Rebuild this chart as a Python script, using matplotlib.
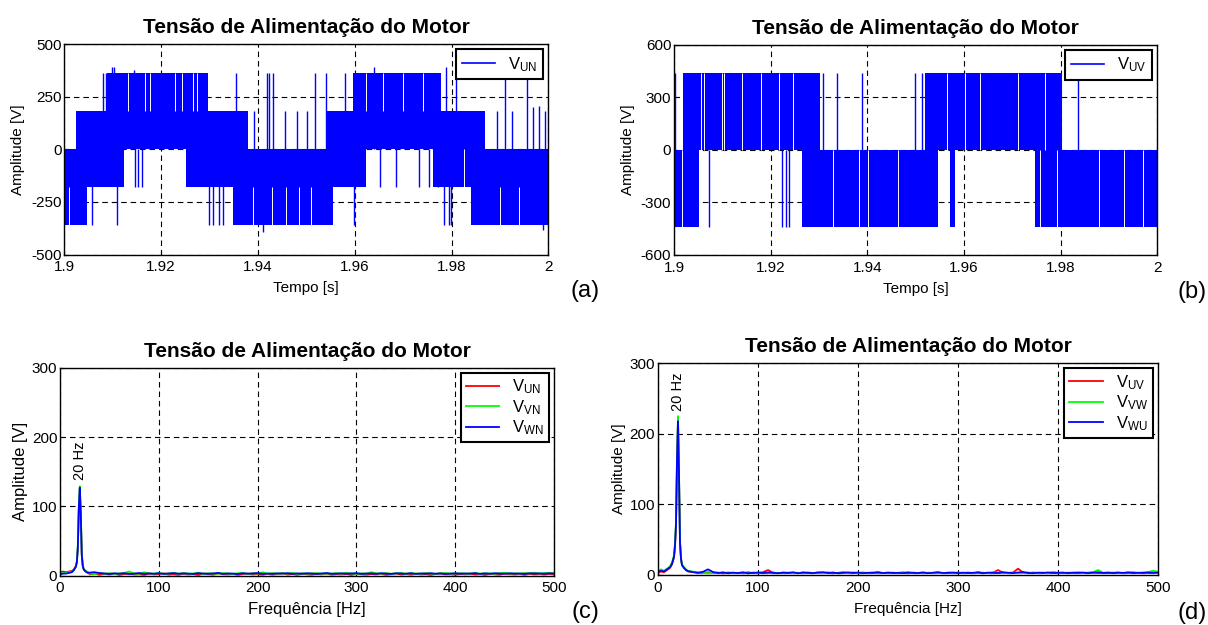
import numpy as np
import matplotlib
matplotlib.use('Agg')
import matplotlib.pyplot as plt
from matplotlib.lines import Line2D

plt.rcParams['font.family'] = ['Liberation Sans', 'DejaVu Sans']
plt.rcParams['mathtext.default'] = 'regular'
plt.rcParams['axes.unicode_minus'] = False

# ---------------- (a) V_UN : PWM bands (start, end, low, high) ----------------
a_t0 = [1.9000, 1.9024, 1.9048, 1.9089, 1.9124, 1.9251, 1.9296, 1.9348, 1.9379,
        1.9540, 1.9555, 1.9597, 1.9623, 1.9761, 1.9778, 1.9840, 1.9870]
a_t1 = [1.9024, 1.9048, 1.9089, 1.9124, 1.9251, 1.9296, 1.9348, 1.9379, 1.9540,
        1.9555, 1.9597, 1.9623, 1.9761, 1.9778, 1.9840, 1.9870, 2.0000]
a_lo = [-360, -360, -180, -180, 0, -180, -180, -360, -360,
        -360, -180, -180, 0, -180, -180, -360, -360]
a_hi = [0, 180, 180, 360, 360, 360, 180, 180, 0,
        180, 180, 360, 360, 360, 180, 180, 0]
# isolated pulses (time, peak value)
a_sp_t = [1.90806, 1.90861, 1.90980, 1.91030, 1.91432, 1.93554, 1.93926, 1.94187,
          1.94236, 1.94319, 1.94560, 1.94801, 1.95007, 1.95186, 1.95407, 1.95799,
          1.96391, 1.97893, 1.98093, 1.98937, 1.99095, 1.99254, 1.99556, 1.99690,
          1.99810, 1.99929,
          1.90565, 1.91088, 1.91460, 1.91529, 1.91605, 1.92982, 1.93078, 1.93202,
          1.93271, 1.94111, 1.95992, 1.96522, 1.96853, 1.97321, 1.97542, 1.97714,
          1.97852, 1.97941, 1.97989, 1.99889]
a_sp_v = [360, 360, 392, 392, 376, 360, 180, 360,
          360, 360, 180, 180, 180, 360, 360, 360,
          392, 390, 360, 180, 360, 180, 360, 200,
          205, 180,
          -360, -360, -180, -180, -180, -360, -360, -360,
          -360, -395, -360, -180, -180, -180, -180, -180,
          -360, -360, -360, -385]
# thin white gaps seen inside the dense switching (time, from, to)
a_gap_t = [1.90103, 1.91309, 1.91674, 1.91777, 1.92287, 1.92431, 1.92665, 1.92741,
           1.93900, 1.94300, 1.94580, 1.94856, 1.95097, 1.96233, 1.96577, 1.96991,
           1.97404, 1.98265, 1.99000, 1.99400]
a_gap_v0 = [-360, 180, 180, 180, 180, 180, 180, 180,
            -360, -360, -360, -360, -360, 180, 180, 180,
            180, -180, -360, -360]
a_gap_v1 = [-180, 360, 360, 360, 360, 360, 360, 360,
            -180, -180, -180, -180, -180, 360, 360, 360,
            360, 0, -180, -180]

# ---------------- (b) V_UV ----------------
b_t0 = [1.9000, 1.9018, 1.9052, 1.9264, 1.9302, 1.9519, 1.9547, 1.9571, 1.9581, 1.9747, 1.9802]
b_t1 = [1.9018, 1.9052, 1.9264, 1.9302, 1.9519, 1.9547, 1.9571, 1.9581, 1.9747, 1.9802, 2.0000]
b_lo = [-440, -440, 0, -440, -440, -440, 0, -440, 0, -440, -440]
b_hi = [0, 440, 440, 440, 0, 440, 440, 440, 440, 440, 0]
b_sp_t = [1.90020, 1.93090, 1.93366, 1.93883, 1.94986, 1.95124, 1.98352,
          1.90724, 1.92228, 1.92317, 1.92386]
b_sp_v = [440, 440, 440, 440, 440, 440, 440,
          -440, -440, -440, -440]
b_gap_t = [1.90552, 1.90628, 1.90986, 1.91041, 1.91400, 1.91800, 1.92172, 1.92455,
           1.95641, 1.96021, 1.96331, 1.97124, 1.97676,
           1.90159, 1.93297, 1.93834, 1.94021, 1.94641, 1.97572, 1.97931,
           1.98800, 1.99300, 1.99700]
b_gap_v0 = [0] * 13 + [-440] * 10
b_gap_v1 = [440] * 13 + [0] * 10

# ---------------- spectra ----------------
f_peak = [0, 3, 6, 9, 12, 14, 16, 17, 18, 19, 20, 21, 22, 23, 24, 26, 28]

c_un_peak = [5, 6, 5, 6, 7, 9, 14, 20, 40, 95, 125, 85, 30, 14, 9, 6, 5]
c_vn_peak = [3, 4, 4, 5, 6, 8, 13, 20, 42, 100, 129, 90, 32, 15, 9, 7, 5]
c_wn_peak = [2, 3, 3, 4, 5, 8, 13, 19, 40, 97, 127, 88, 30, 14, 9, 6, 4]

c_un_floor = [2.1, 3.0, 1.4, 2.6, 1.8, 2.9, 1.2, 2.4, 3.1, 1.7, 2.2, 1.1, 2.8, 1.9, 2.5, 3.3, 1.6, 2.0, 1.3,
              2.7, 1.8, 2.3, 1.0, 2.9, 2.1, 1.5, 3.4, 2.2, 1.8, 2.6, 1.2, 2.4, 3.0, 1.9, 2.3, 1.4, 2.7, 1.6,
              2.2, 3.6, 1.7, 2.4, 1.3, 2.8, 2.0, 1.5, 2.6, 1.9, 3.1, 1.4, 2.2, 1.8, 2.5, 1.1, 2.9, 2.0, 1.6,
              2.4, 1.9, 2.8, 1.3, 2.1, 3.2, 1.7, 2.3, 1.5, 2.7, 1.9, 2.2, 1.2, 2.6, 3.0, 1.8, 2.1, 1.4, 2.5,
              1.9, 2.8, 1.6, 2.3, 1.1, 2.7, 2.0, 1.5, 3.1, 2.2, 1.8, 2.4, 1.3, 2.6, 1.9, 2.2, 1.7, 2.5, 1.8]
c_vn_floor = [3.2, 2.4, 3.8, 2.9, 3.5, 2.6, 3.1, 4.0, 6.0, 3.0, 2.7, 5.0, 3.4, 2.8, 3.9, 2.5, 3.3, 4.1, 2.9,
              3.6, 2.7, 3.2, 4.2, 2.6, 3.5, 3.0, 2.8, 3.7, 3.1, 2.5, 3.4, 3.9, 2.7, 3.3, 3.0, 5.0, 2.9, 3.6,
              2.8, 3.4, 3.1, 4.0, 2.6, 3.5, 2.9, 3.3, 3.8, 2.7, 3.2, 3.0, 3.6, 2.8, 4.3, 3.1, 2.6, 3.4, 3.0,
              5.0, 3.3, 2.9, 3.7, 2.8, 3.2, 4.1, 2.7, 3.5, 3.0, 2.9, 3.8, 3.1, 2.6, 3.4, 3.9, 2.8, 3.2, 3.6,
              2.9, 3.3, 4.0, 2.7, 3.5, 3.1, 2.8, 3.6, 4.2, 3.0, 3.4, 2.9, 3.8, 3.2, 4.4, 3.0, 3.7, 4.1, 3.3]
c_wn_floor = [4.5, 5.0, 3.8, 3.2, 2.6, 3.4, 2.9, 3.6, 2.4, 3.1, 3.8, 2.7, 3.3, 2.9, 3.5, 2.6, 3.2, 3.7, 2.8,
              3.4, 3.0, 2.6, 3.6, 3.1, 2.8, 3.3, 3.9, 2.7, 3.2, 3.0, 2.5, 3.5, 2.9, 3.3, 3.8, 2.6, 3.1, 2.8,
              3.4, 3.0, 3.6, 2.7, 3.2, 2.9, 3.5, 3.1, 2.6, 3.3, 3.7, 2.8, 3.0, 3.4, 2.9, 3.2, 3.6, 2.7, 3.1,
              3.3, 2.8, 3.5, 3.0, 2.6, 3.4, 3.1, 2.9, 3.6, 2.7, 3.2, 3.0, 3.5, 2.8, 3.3, 2.6, 3.1, 3.4, 2.9,
              3.2, 3.0, 3.6, 2.7, 3.3, 2.9, 3.5, 3.1, 2.8, 3.4, 3.0, 3.2, 2.7, 3.5, 3.1, 3.3, 2.9, 3.4, 3.2]

d_uv_peak = [3, 5, 4, 7, 10, 15, 25, 40, 70, 160, 220, 140, 45, 22, 14, 10, 7]
d_vw_peak = [6, 8, 6, 9, 12, 18, 28, 45, 75, 165, 225, 145, 48, 24, 15, 11, 8]
d_wu_peak = [4, 6, 5, 8, 11, 16, 26, 42, 72, 162, 218, 142, 46, 23, 14, 10, 7]

d_uv_floor = [5.0, 4.2, 3.1, 2.6, 3.8, 2.9, 3.4, 2.2, 3.6, 2.8, 3.1, 2.4, 3.9, 2.7, 3.2, 4.0, 7.0, 3.3, 2.6,
              3.5, 2.9, 3.2, 2.5, 3.7, 3.0, 2.7, 3.4, 2.8, 3.6, 2.4, 3.1, 3.9, 2.6, 3.3, 2.9, 3.5, 2.7, 3.2,
              4.1, 2.8, 3.4, 2.6, 3.0, 3.7, 2.5, 3.3, 2.9, 3.6, 2.7, 3.1, 3.8, 2.6, 3.2, 2.9, 3.5, 2.8, 3.3,
              2.6, 3.9, 3.0, 2.7, 3.4, 7.0, 3.1, 2.8, 3.6, 9.0, 3.3, 2.6, 3.5, 2.9, 3.2, 2.7, 3.8, 3.0, 2.6,
              3.4, 2.9, 3.7, 2.8, 3.2, 3.5, 2.7, 3.1, 3.6, 2.9, 3.3, 2.6, 3.0, 3.8, 2.7, 3.4, 2.9, 3.1, 3.5]
d_vw_floor = [6.0, 4.8, 3.6, 3.0, 2.4, 3.3, 2.7, 3.9, 2.5, 3.2, 2.8, 3.6, 2.3, 3.4, 2.9, 3.1, 2.6, 3.7, 2.4,
              3.0, 3.5, 2.7, 3.2, 2.5, 3.8, 2.9, 3.3, 2.6, 3.1, 3.6, 2.4, 3.0, 2.8, 3.4, 2.6, 3.2, 2.9, 3.7,
              2.5, 3.1, 2.8, 3.5, 2.6, 3.3, 3.9, 2.7, 3.0, 2.5, 3.4, 2.9, 3.2, 2.6, 3.6, 2.8, 3.1, 2.4, 3.5,
              3.0, 2.7, 3.3, 2.5, 3.8, 2.9, 3.2, 2.6, 3.4, 3.0, 2.8, 3.6, 2.5, 3.1, 3.3, 2.7, 3.9, 2.9, 3.2,
              2.6, 3.5, 3.0, 2.8, 3.4, 4.0, 7.0, 3.1, 2.7, 3.6, 3.2, 2.9, 3.8, 3.3, 3.0, 3.5, 4.2, 6.0, 4.5]
d_wu_floor = [5.5, 4.0, 3.2, 4.5, 8.0, 4.2, 2.9, 3.5, 2.6, 3.3, 2.8, 3.7, 2.5, 3.1, 3.4, 2.7, 3.6, 3.0, 2.6,
              3.2, 2.9, 3.8, 2.5, 3.4, 3.0, 2.7, 3.5, 4.0, 2.8, 3.3, 2.6, 3.1, 3.7, 2.9, 3.4, 2.5, 3.2, 3.0,
              3.6, 2.7, 3.3, 2.9, 3.1, 2.6, 3.5, 3.0, 2.8, 3.4, 2.6, 3.2, 3.7, 2.9, 3.0, 3.5, 2.7, 3.3, 2.8,
              3.1, 3.6, 2.6, 3.4, 3.0, 2.8, 3.9, 3.2, 2.7, 3.5, 4.2, 3.0, 2.6, 3.3, 2.9, 3.6, 2.8, 3.1, 3.4,
              2.7, 3.2, 3.0, 3.5, 2.6, 3.3, 3.8, 2.9, 3.1, 2.7, 3.4, 3.0, 3.6, 2.8, 3.2, 2.9, 3.5, 3.1, 3.4]

BLUE = '#0000ff'
RED = '#ff0000'
GREEN = '#00ff00'
TITLE = 'Tensão de Alimentação do Motor'


def style_axes(ax):
    ax.grid(True, color='k', linestyle=(0, (5, 3.5)), linewidth=0.8)
    ax.set_axisbelow(True)
    for s in ax.spines.values():
        s.set_linewidth(1.0)
    ax.tick_params(direction='in', length=3, labelsize=11)
    ax.tick_params(axis='x', pad=4)
    ax.tick_params(axis='y', pad=2)


def pwm_panel(ax, t0, t1, lo, hi, sp_t, sp_v, gap_t, gap_v0, gap_v1, ylim, yticks, label):
    for i in range(len(t0)):
        ax.fill_between([t0[i], t1[i]], [lo[i], lo[i]], [hi[i], hi[i]],
                        color=BLUE, linewidth=0, zorder=2)
    ax.vlines(sp_t, 0, sp_v, color=BLUE, linewidth=1.0, zorder=2)
    ax.vlines(gap_t, gap_v0, gap_v1, color='white', linewidth=0.7, zorder=3)
    ax.set_xlim(1.9, 2.0)
    ax.set_ylim(ylim)
    ax.set_xticks([1.9, 1.92, 1.94, 1.96, 1.98, 2.0])
    ax.set_xticklabels(['1.9', '1.92', '1.94', '1.96', '1.98', '2'])
    ax.set_yticks(yticks)
    style_axes(ax)
    ax.set_title(TITLE, fontsize=15, fontweight='bold', pad=8)
    ax.set_xlabel('Tempo [s]', fontsize=11, labelpad=5)
    ax.set_ylabel('Amplitude [V]', fontsize=11, labelpad=4)
    h = [Line2D([], [], color=BLUE, linewidth=1.2)]
    leg = ax.legend(h, [label], loc='upper right', fontsize=12, fancybox=False,
                    edgecolor='k', framealpha=1, borderaxespad=0.3, handlelength=2.0,
                    borderpad=0.35)
    leg.get_frame().set_linewidth(1.5)
    leg.set_zorder(5)


def spectrum_panel(ax, series, labels, peak_top, lab_size):
    colors = [RED, GREEN, BLUE]
    for (pk, fl), c, lab in zip(series, colors, labels):
        f = list(f_peak) + list(np.linspace(30, 500, len(fl)))
        ax.plot(f, list(pk) + list(fl), color=c, linewidth=1.3, label=lab)
    ax.set_xlim(0, 500)
    ax.set_ylim(0, 300)
    ax.set_xticks([0, 100, 200, 300, 400, 500])
    ax.set_yticks([0, 100, 200, 300])
    style_axes(ax)
    ax.set_title(TITLE, fontsize=15, fontweight='bold', pad=8)
    ax.set_xlabel('Frequência [Hz]', fontsize=lab_size, labelpad=5)
    ax.set_ylabel('Amplitude [V]', fontsize=lab_size, labelpad=3)
    ax.text(20, peak_top, '20 Hz', rotation=90, ha='center', va='bottom', fontsize=10.5)
    leg = ax.legend(loc='upper right', fontsize=12, fancybox=False, edgecolor='k',
                    framealpha=1, borderaxespad=0.3, handlelength=2.0, labelspacing=0.1,
                    borderpad=0.3)
    leg.get_frame().set_linewidth(1.5)


fig = plt.figure(figsize=(12.08, 6.25), dpi=100)

ax_a = fig.add_axes([0.0532, 0.5928, 0.4007, 0.3368])
pwm_panel(ax_a, a_t0, a_t1, a_lo, a_hi, a_sp_t, a_sp_v, a_gap_t, a_gap_v0, a_gap_v1,
          (-500, 500), [-500, -250, 0, 250, 500], r'$V_{UN}$')

ax_b = fig.add_axes([0.5580, 0.5920, 0.4001, 0.3365])
pwm_panel(ax_b, b_t0, b_t1, b_lo, b_hi, b_sp_t, b_sp_v, b_gap_t, b_gap_v0, b_gap_v1,
          (-600, 600), [-600, -300, 0, 300, 600], r'$V_{UV}$')

ax_c = fig.add_axes([0.0497, 0.0789, 0.4090, 0.3328])
spectrum_panel(ax_c, [(c_un_peak, c_un_floor), (c_vn_peak, c_vn_floor), (c_wn_peak, c_wn_floor)],
               [r'$V_{UN}$', r'$V_{VN}$', r'$V_{WN}$'], 138, 12)

ax_d = fig.add_axes([0.5447, 0.0800, 0.4140, 0.3387])
spectrum_panel(ax_d, [(d_uv_peak, d_uv_floor), (d_vw_peak, d_vw_floor), (d_wu_peak, d_wu_floor)],
               [r'$V_{UV}$', r'$V_{VW}$', r'$V_{WU}$'], 232, 11)

fig.text(585 / 1208, 1 - 291 / 625, '(a)', ha='center', va='center', fontsize=17)
fig.text(1192 / 1208, 1 - 292 / 625, '(b)', ha='center', va='center', fontsize=17)
fig.text(585 / 1208, 1 - 612 / 625, '(c)', ha='center', va='center', fontsize=17)
fig.text(1192 / 1208, 1 - 613 / 625, '(d)', ha='center', va='center', fontsize=17)

fig.savefig('out.png', dpi=100)
